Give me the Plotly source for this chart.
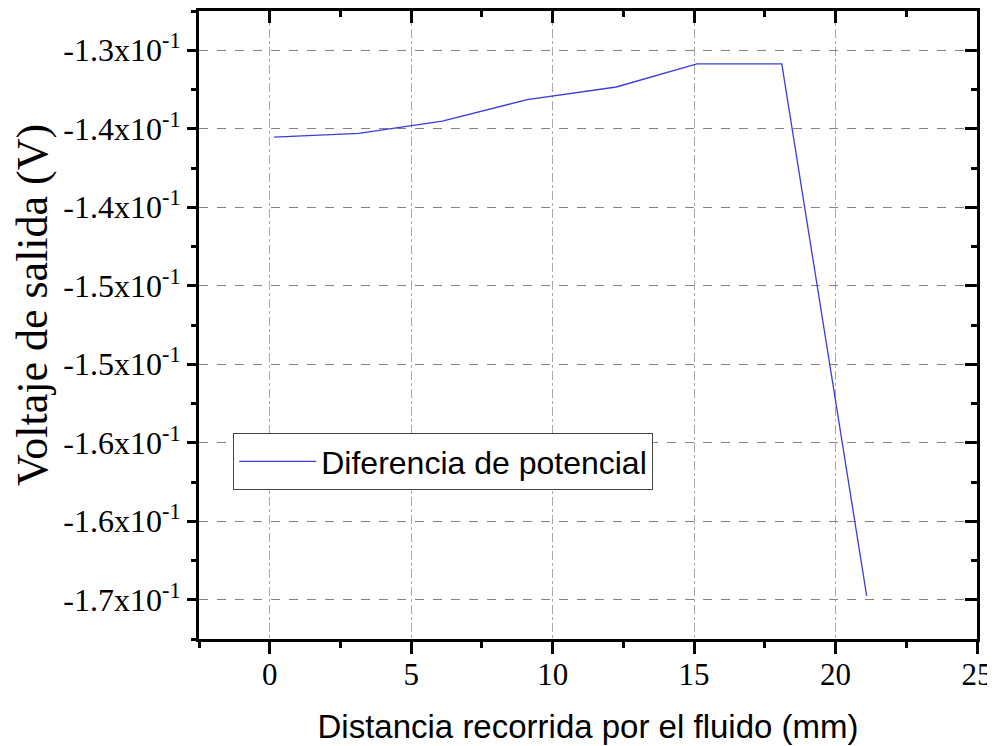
import plotly.graph_objects as go

# Data
distancia_mm = [0.15, 3.15, 6.1, 9.1, 12.25, 15.1, 18.1, 21.1]
voltaje_v = [-0.13553, -0.13530, -0.13451, -0.13315, -0.13234, -0.13087, -0.13087, -0.16475]
serie_nombre = "Diferencia de potencial"

y_tickvals = [-0.130, -0.135, -0.140, -0.145, -0.150, -0.155, -0.160, -0.165]
y_ticktext = ["-1.3x10<sup>-1</sup>", "-1.4x10<sup>-1</sup>", "-1.4x10<sup>-1</sup>",
              "-1.5x10<sup>-1</sup>", "-1.5x10<sup>-1</sup>", "-1.6x10<sup>-1</sup>",
              "-1.6x10<sup>-1</sup>", "-1.7x10<sup>-1</sup>"]
x_tickvals = [0, 5, 10, 15, 20, 25]
y_title = "Voltaje de salida (V)"
x_title = "Distancia recorrida por el fluido (mm)"

X_RANGE = [-2.5, 25]
Y_RANGE = [-0.1675, -0.1275]

fig = go.Figure()
fig.add_trace(go.Scatter(
    x=distancia_mm, y=voltaje_v, mode="lines", name=serie_nombre,
    line=dict(color="#3b3bdb", width=1.3),
))
# invisible helper trace for the mirrored (top/right) axes
fig.add_trace(go.Scatter(
    x=[X_RANGE[0]], y=[Y_RANGE[0]], xaxis="x2", yaxis="y2", mode="markers",
    marker=dict(opacity=0), showlegend=False, hoverinfo="skip",
))

serif = "Liberation Serif, Times New Roman, serif"
sans = "Liberation Sans, Arial, sans-serif"

# page body has an 8px default margin, so the figure is sized/offset accordingly
fig.update_layout(
    width=987, height=738,
    paper_bgcolor="white", plot_bgcolor="white",
    margin=dict(l=191, r=18, t=3, b=107),
    showlegend=True,
    legend=dict(
        x=0.044, y=0.328, xanchor="left", yanchor="top",
        bgcolor="white", bordercolor="#444444", borderwidth=1,
        font=dict(family=sans, size=32, color="black"),
        itemwidth=77,
    ),
    xaxis=dict(
        range=X_RANGE, tickvals=x_tickvals, automargin=False,
        ticks="outside", ticklen=12, tickwidth=2.5, tickcolor="black",
        minor=dict(ticks="outside", ticklen=6, tickwidth=2.5, tickcolor="black", dtick=2.5,
                   showgrid=False),
        showline=True, linecolor="black", linewidth=3,
        showgrid=True, gridcolor="#a8a8a8", griddash="dashdot", gridwidth=1,
        zeroline=False, ticklabelstandoff=-6,
        tickfont=dict(family=serif, size=31, color="black"),
        title=dict(text=x_title,
                   font=dict(family=sans, size=33, color="black"), standoff=24),
    ),
    yaxis=dict(
        range=Y_RANGE, tickvals=y_tickvals, ticktext=y_ticktext, automargin=False,
        ticks="outside", ticklen=9, tickwidth=2.5, tickcolor="black",
        minor=dict(ticks="outside", ticklen=5, tickwidth=2.5, tickcolor="black", dtick=0.0025,
                   showgrid=False),
        showline=True, linecolor="black", linewidth=3,
        showgrid=True, gridcolor="#8c7c8c", griddash="dash", gridwidth=1,
        zeroline=False,
        tickfont=dict(family=serif, size=32, color="black"),
    ),
    xaxis2=dict(
        overlaying="x", side="top", range=X_RANGE, tickvals=x_tickvals, automargin=False,
        ticks="inside", ticklen=12, tickwidth=2.5, tickcolor="black",
        minor=dict(ticks="inside", ticklen=6, tickwidth=2.5, tickcolor="black", dtick=2.5),
        showticklabels=False, showline=True, linecolor="black", linewidth=3,
        showgrid=False, zeroline=False,
    ),
    yaxis2=dict(
        overlaying="y", side="right", range=Y_RANGE, tickvals=y_tickvals, automargin=False,
        ticks="inside", ticklen=12, tickwidth=2.5, tickcolor="black",
        minor=dict(ticks="inside", ticklen=6, tickwidth=2.5, tickcolor="black", dtick=0.0025),
        showticklabels=False, showline=True, linecolor="black", linewidth=3,
        showgrid=False, zeroline=False,
    ),
    annotations=[dict(
        text=y_title, xref="paper", yref="paper", x=-0.2134, y=0.532,
        xanchor="center", yanchor="middle", textangle=-90, showarrow=False,
        font=dict(family=serif, size=44, color="black"),
    )],
)

fig.write_html("out.html")
